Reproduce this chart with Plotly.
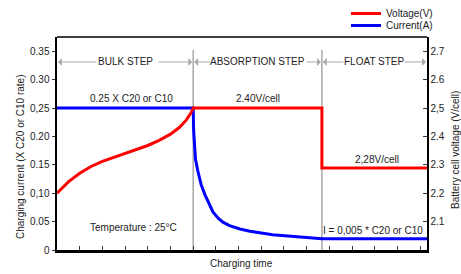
import plotly.graph_objects as go

# ---- data ----
volt_x = [0, 0.5, 1.0, 1.5, 2.0, 2.5, 3.0, 3.5, 4.0, 4.5, 5.0, 5.4, 5.7, 5.9, 6.0, 11.67, 11.67, 16.3]
volt_y = [2.20, 2.24, 2.27, 2.294, 2.312, 2.326, 2.338, 2.352, 2.368, 2.386, 2.408, 2.432, 2.458, 2.482,
          2.50, 2.50, 2.289, 2.289]

curr_x = [0, 6.0, 6.02, 6.05, 6.1, 6.2, 6.35, 6.52, 6.7, 6.87, 7.1, 7.31, 7.6, 8.06, 8.5, 8.94,
          9.5, 10.04, 10.6, 11.1, 11.67, 16.3]
curr_y = [0.25, 0.25, 0.21, 0.18, 0.16, 0.14, 0.115, 0.097, 0.08, 0.067, 0.056, 0.049, 0.043, 0.037,
          0.033, 0.030, 0.027, 0.025, 0.023, 0.021, 0.020, 0.020]

left_tickvals = [0, 0.05, 0.10, 0.15, 0.20, 0.25, 0.30, 0.35]
left_ticktext = ["0", "0.05", "0,10", "0.15", "0.20", "0,25", "0.30", "0.35"]
right_tickvals = [2.1, 2.2, 2.3, 2.4, 2.5, 2.6, 2.7]
right_ticktext = ["2.1", "2.2", "2.3", "2.4", "2,5", "2.6", "2.7"]

step_bounds = [0, 6.0, 11.67, 16.3]
step_names = ["BULK STEP", "ABSORPTION STEP", "FLOAT STEP"]

FONT = "Liberation Sans, Arial, sans-serif"
GRAY = "#a8a8a8"
TXT = "#222"
FS = 10

W, H = 461, 274
L, R, T, B = 57, 34, 37, 24
PW, PH = W - L - R, H - T - B
XMAX = 16.3

def px2x(px):
    return (px - L) / PW * XMAX

def pxp(px):  # figure px -> plot-area paper x
    return (px - L) / PW

def pyp(py):  # figure px -> plot-area paper y
    return (H - B - py) / PH

fig = go.Figure()
fig.add_trace(go.Scatter(x=curr_x, y=curr_y, mode="lines", name="Current(A)",
                         line=dict(color="#0000ff", width=3), legend="legend2"))
fig.add_trace(go.Scatter(x=volt_x, y=volt_y, mode="lines", name="Voltage(V)", yaxis="y2",
                         line=dict(color="#ff0000", width=3), legend="legend"))

shapes = []
for xb in step_bounds[1:3]:
    shapes.append(dict(type="line", xref="x", yref="y", x0=xb, x1=xb, y0=0, y1=0.352,
                       line=dict(color=GRAY, width=1.5), layer="below"))
shapes.append(dict(type="line", xref="paper", yref="paper", x0=0, x1=1, y0=1, y1=1,
                   line=dict(color="black", width=1.5)))

annotations = []
arrow_y = 0.331
tails = [(98, 157), (213, 305), (345, 403)]
for i, name in enumerate(step_names):
    x0, x1 = step_bounds[i], step_bounds[i + 1]
    annotations.append(dict(x=(x0 + x1) / 2, y=arrow_y, xref="x", yref="y", text=name,
                            showarrow=False, font=dict(size=FS, color=TXT)))
    lt, rt = tails[i]
    annotations.append(dict(x=x0, y=arrow_y, ax=px2x(lt), ay=arrow_y, xref="x", yref="y",
                            axref="x", ayref="y", text="", showarrow=True, arrowhead=1,
                            arrowsize=1.3, arrowwidth=1, arrowcolor=GRAY, standoff=1))
    annotations.append(dict(x=x1, y=arrow_y, ax=px2x(rt), ay=arrow_y, xref="x", yref="y",
                            axref="x", ayref="y", text="", showarrow=True, arrowhead=1,
                            arrowsize=1.3, arrowwidth=1, arrowcolor=GRAY, standoff=1))

notes = [
    ("0.25 X C20 or C10", 3.3, 0.266),
    ("2.40V/cell", 8.85, 0.266),
    ("2,28V/cell", 14.1, 0.160),
    ("Temperature : 25°C", 3.39, 0.0405),
    ("I = 0,005 * C20 or C10", 13.92, 0.035),
]
for t, x, y in notes:
    annotations.append(dict(x=x, y=y, xref="x", yref="y", text=t, showarrow=False,
                            font=dict(size=FS, color=TXT)))

annotations += [
    dict(x=pxp(241), y=pyp(263), xref="paper", yref="paper", text="Charging time",
         showarrow=False, font=dict(size=FS, color=TXT), xanchor="center", yanchor="middle"),
    dict(x=pxp(20), y=pyp(157), xref="paper", yref="paper", text="Charging current (X C20 or C10 rate)",
         textangle=-90, showarrow=False, font=dict(size=FS, color=TXT), xanchor="center", yanchor="middle"),
    dict(x=pxp(455), y=pyp(150), xref="paper", yref="paper", text="Battery cell voltage (V/cell)",
         textangle=-90, showarrow=False, font=dict(size=FS, color=TXT), xanchor="center", yanchor="middle"),
]

fig.update_layout(
    width=W, height=H,
    margin=dict(l=L, r=R, t=T, b=B, pad=0, autoexpand=False),
    paper_bgcolor="white", plot_bgcolor="white",
    font=dict(family=FONT, size=FS, color=TXT),
    showlegend=True,
    hovermode=False,
    legend=dict(x=pxp(346), y=pyp(-1), xanchor="left", yanchor="top",
                font=dict(size=FS), bgcolor="rgba(0,0,0,0)", tracegroupgap=0),
    legend2=dict(x=pxp(346), y=pyp(11), xanchor="left", yanchor="top",
                 font=dict(size=FS), bgcolor="rgba(0,0,0,0)", tracegroupgap=0),
    xaxis=dict(range=[0, XMAX], showgrid=False, zeroline=False, showline=True, linecolor="black",
               linewidth=2.5, ticks="inside", ticklen=4, tickcolor="#333", dtick=1, tick0=0,
               showticklabels=False),
    yaxis=dict(range=[0, 0.375], showgrid=False, zeroline=False, showline=True, linecolor="black",
               linewidth=2.5, ticks="outside", ticklen=3, tickcolor="#333",
               tickvals=left_tickvals, ticktext=left_ticktext, tickfont=dict(size=FS)),
    yaxis2=dict(range=[2.0, 2.75], overlaying="y", side="right", showgrid=False, zeroline=False,
                showline=True, linecolor="black", linewidth=1.5, ticks="inside", ticklen=4,
                tickcolor="#333", tickvals=right_tickvals, ticktext=right_ticktext,
                tickfont=dict(size=FS)),
    shapes=shapes,
    annotations=annotations,
)

fig.write_html("out.html", config={"displayModeBar": False, "staticPlot": True},
               post_script="document.body.style.margin='0';document.body.style.overflow='hidden';")
